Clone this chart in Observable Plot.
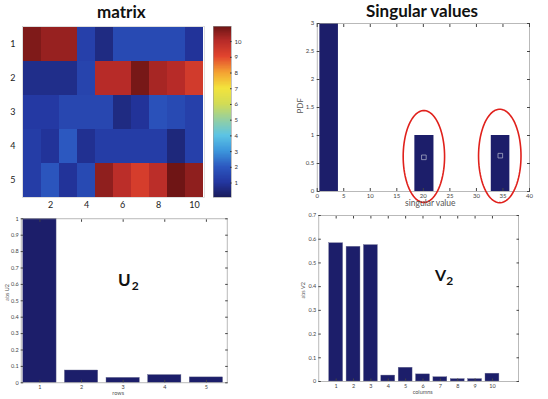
<!DOCTYPE html>
<html><head><meta charset="utf-8">
<script src="https://cdn.jsdelivr.net/npm/d3@7"></script>
<script src="https://cdn.jsdelivr.net/npm/@observablehq/plot@0.6"></script>
<style>
body{margin:0;background:#fff;}
#root{position:relative;width:548px;height:399px;overflow:hidden;font-family:Lato,sans-serif;background:#fff;}
.p{position:absolute;}
.title{position:absolute;font-weight:bold;font-size:17px;line-height:17px;white-space:nowrap;color:#111;}
.big{position:absolute;line-height:1;white-space:nowrap;color:#111;}
</style></head><body><div id="root"></div>
<script>
// ---------- data ----------
const matrixRows = [1, 2, 3, 4, 5];
const matrixCols = [1, 2, 3, 4, 5, 6, 7, 8, 9, 10];
const matrixColTicks = [2, 4, 6, 8, 10];
const matrixValues = [
  [10.7, 10.4, 10.4, 1.3, 0.6, 1.6, 1.6, 1.6, 1.6, 0.9],
  [0.7, 0.7, 0.7, 1.4, 10.0, 10.0, 10.8, 10.2, 10.0, 9.4],
  [1.1, 1.1, 1.5, 1.5, 1.5, 0.6, 0.9, 1.8, 1.6, 1.3],
  [1.2, 0.9, 2.0, 0.8, 1.2, 1.2, 1.2, 1.2, 0.5, 1.3],
  [1.2, 1.9, 0.9, 1.6, 10.5, 9.9, 9.3, 9.9, 10.9, 10.5]
];
const colorbarTicks = [1, 2, 3, 4, 5, 6, 7, 8, 9, 10];
const colorbarDomain = [0.08, 10.96];
const colorStops = [0.08, 1, 2, 3, 4, 5, 6, 7, 8, 9, 10, 10.96];
const colorRange = ["#1a1c5c", "#2336a0", "#2c58c0", "#3c96dc", "#5cc4e4", "#95cfa0", "#d2dc55", "#f3e33c", "#f4a132", "#e2452e", "#b72b28", "#6a1414"];

const svBinLo = [0.5, 18.4, 32.8];
const svBinHi = [4.0, 22.0, 36.3];
const svCounts = [3, 1, 1];
const svXTicks = [0, 5, 10, 15, 20, 25, 30, 35, 40];
const svYTicks = [0, 0.5, 1, 1.5, 2, 2.5, 3];
const svMarkX = [20.1, 34.5];
const svMarkY = [0.61, 0.64];
const ellipseCx = [20.1, 34.4];
const ellipseCy = [0.625, 0.635];
const ellipseRx = [3.9, 4.0];
const ellipseRy = [0.82, 0.835];

const uRows = [1, 2, 3, 4, 5];
const uAbs = [1.0, 0.075, 0.03, 0.047, 0.033];
const uYTicks = [0, 0.1, 0.2, 0.3, 0.4, 0.5, 0.6, 0.7, 0.8, 0.9, 1];

const vCols = [1, 2, 3, 4, 5, 6, 7, 8, 9, 10];
const vAbs = [0.583, 0.568, 0.575, 0.025, 0.058, 0.03, 0.018, 0.01, 0.01, 0.033];
const vYTicks = [0, 0.1, 0.2, 0.3, 0.4, 0.5, 0.6, 0.7];

// ---------- helpers ----------
const root = document.getElementById("root");
function place(el, left, top) { el.classList.add("p"); el.style.left = left + "px"; el.style.top = top + "px"; root.appendChild(el); }
function addText(html, cls, left, top, extra) {
  const d = document.createElement("div"); d.className = cls; d.innerHTML = html;
  d.style.left = left + "px"; d.style.top = top + "px";
  if (extra) Object.assign(d.style, extra);
  root.appendChild(d); return d;
}
const NAVY = "#1c1e6a";
const FRAME = "#9c9c9c";
const fmt = d3.format("~g");
const colorScale = {type: "linear", domain: colorStops, range: colorRange, interpolate: "rgb"};

// ---------- matrix heatmap ----------
const cells = [];
matrixRows.forEach((r, i) => matrixCols.forEach((c, j) => cells.push({row: r, col: c, value: matrixValues[i][j]})));
place(Plot.plot({
  width: 210, height: 195, marginLeft: 22, marginRight: 6, marginTop: 6, marginBottom: 18,
  x: {type: "band", domain: matrixCols, padding: 0},
  y: {type: "band", domain: matrixRows, padding: 0},
  color: colorScale,
  style: {fontSize: "9px", color: "#222", fontFamily: "Lato, sans-serif", background: "transparent"},
  marks: [
    Plot.cell(cells, {x: "col", y: "row", fill: "value", inset: 0, shapeRendering: "crispEdges"}),
    Plot.axisX({ticks: matrixColTicks, tickSize: 0, tickPadding: 4, label: null}),
    Plot.axisY({tickSize: 0, tickPadding: 7, label: null}),
    Plot.frame({stroke: "#c8c8c8", strokeWidth: 0.6})
  ]
}), 0, 20);

// colorbar
const cbSamples = d3.range(0, 300).map(i => colorbarDomain[0] + i * (colorbarDomain[1] - colorbarDomain[0]) / 300);
const cbStep = (colorbarDomain[1] - colorbarDomain[0]) / 300;
place(Plot.plot({
  width: 45, height: 195, marginLeft: 8, marginRight: 19, marginTop: 6, marginBottom: 18,
  x: {domain: [0, 1], axis: null},
  y: {domain: colorbarDomain},
  color: colorScale,
  style: {fontSize: "6px", color: "#333", fontFamily: "Lato, sans-serif", background: "transparent"},
  marks: [
    Plot.rect(cbSamples, {x1: 0, x2: 1, y1: d => d, y2: d => d + cbStep * 1.05, fill: d => d, shapeRendering: "crispEdges"}),
    Plot.axisY({anchor: "right", ticks: colorbarTicks, tickSize: -2, tickPadding: 5, tickFormat: fmt, label: null}),
    Plot.frame({stroke: "#999", strokeWidth: 0.6})
  ]
}), 205, 20);

addText("matrix", "title", 97, 3);

// ---------- singular values ----------
const svBins = svCounts.map((c, i) => ({lo: svBinLo[i], hi: svBinHi[i], count: c}));
const svMarks = svMarkX.map((x, i) => ({x, y: svMarkY[i]}));
const ellipsePts = [];
ellipseCx.forEach((cx, k) => {
  for (let t = 0; t < 90; t++) {
    const a = t / 90 * 2 * Math.PI;
    ellipsePts.push({id: k, x: cx + ellipseRx[k] * Math.cos(a), y: ellipseCy[k] + ellipseRy[k] * Math.sin(a)});
  }
});
place(Plot.plot({
  width: 274, height: 194, marginLeft: 42.7, marginRight: 19, marginTop: 5, marginBottom: 21,
  x: {domain: [0, 40]},
  y: {domain: [0, 3]},
  style: {fontSize: "6px", color: "#444", fontFamily: "Lato, sans-serif", background: "transparent"},
  marks: [
    Plot.rect(svBins, {x1: "lo", x2: "hi", y1: 0, y2: "count", fill: NAVY}),
    Plot.dot(svMarks, {x: "x", y: "y", symbol: "square", r: 2.6, stroke: "#b8bbd0", strokeWidth: 0.7, fill: "none"}),
    Plot.frame({stroke: FRAME, strokeWidth: 0.7}),
    Plot.axisY({ticks: svYTicks, tickSize: -3, tickPadding: 6, tickFormat: fmt, label: null}),
    Plot.axisY({anchor: "right", ticks: svYTicks, tickSize: -3, tickFormat: () => "", label: null}),
    Plot.axisX({ticks: svXTicks, tickSize: -3, tickPadding: 5, tickFormat: fmt, label: null}),
    Plot.axisX({anchor: "top", ticks: svXTicks, tickSize: -3, tickFormat: () => "", label: null}),
    Plot.line(ellipsePts, {x: "x", y: "y", z: "id", curve: "linear-closed", stroke: "#e0211c", strokeWidth: 1.6}),
    Plot.text(["PDF"], {text: d => d, frameAnchor: "left", dx: -17, dy: 6, rotate: -90, fontSize: 8, fill: "#555"}),
    Plot.text(["singular value"], {text: d => d, frameAnchor: "bottom", dx: 7, dy: 14, fontSize: 8.5, fill: "#555"})
  ]
}), 274, 18);

addText("Singular values", "title", 366, 2);

// ---------- U2 ----------
const uData = uRows.map((r, i) => ({r, v: uAbs[i]}));
place(Plot.plot({
  width: 274, height: 194, marginLeft: 20.7, marginRight: 47.3, marginTop: 13.3, marginBottom: 16.7,
  x: {domain: [0.55, 5.5]},
  y: {domain: [0, 1]},
  style: {fontSize: "5.5px", color: "#444", fontFamily: "Lato, sans-serif", background: "transparent"},
  marks: [
    Plot.rect(uData, {x1: d => d.r - 0.4, x2: d => d.r + 0.4, y1: 0, y2: "v", fill: NAVY, stroke: "#6a6c90", strokeWidth: 0.4}),
    Plot.frame({stroke: FRAME, strokeWidth: 0.7}),
    Plot.axisY({ticks: uYTicks, tickSize: -2.5, tickPadding: 5, tickFormat: fmt, label: null}),
    Plot.axisY({anchor: "right", ticks: uYTicks, tickSize: -2.5, tickFormat: () => "", label: null}),
    Plot.axisX({ticks: uRows, tickSize: -2.5, tickPadding: 5, tickFormat: fmt, label: null}),
    Plot.axisX({anchor: "top", ticks: uRows, tickSize: -2.5, tickFormat: () => "", label: null}),
    Plot.text(["abs U2"], {text: d => d, frameAnchor: "left", dx: -14, rotate: -90, fontSize: 5.5, fill: "#555"}),
    Plot.text(["rows"], {text: d => d, frameAnchor: "bottom", dx: -6, dy: 12.5, fontSize: 5.5, fill: "#555"})
  ]
}), 0, 205);

addText('U<span style="font-size:12px;position:relative;top:4px;margin-left:1px">2</span>', "big", 118, 271, {fontSize: "17px", fontWeight: "bold"});

// ---------- V2 ----------
const vData = vCols.map((c, i) => ({c, v: vAbs[i]}));
place(Plot.plot({
  width: 274, height: 194, marginLeft: 44.3, marginRight: 30, marginTop: 10, marginBottom: 18,
  x: {domain: [0, 11.5]},
  y: {domain: [0, 0.7]},
  style: {fontSize: "5.5px", color: "#444", fontFamily: "Lato, sans-serif", background: "transparent"},
  marks: [
    Plot.rect(vData, {x1: d => d.c - 0.4, x2: d => d.c + 0.4, y1: 0, y2: "v", fill: NAVY, stroke: "#6a6c90", strokeWidth: 0.4}),
    Plot.frame({stroke: FRAME, strokeWidth: 0.7}),
    Plot.axisY({ticks: vYTicks, tickSize: -2.5, tickPadding: 5, tickFormat: fmt, label: null}),
    Plot.axisY({anchor: "right", ticks: vYTicks, tickSize: -2.5, tickFormat: () => "", label: null}),
    Plot.axisX({ticks: vCols, tickSize: -2.5, tickPadding: 5, tickFormat: fmt, label: null}),
    Plot.axisX({anchor: "top", ticks: vCols, tickSize: -2.5, tickFormat: () => "", label: null}),
    Plot.text(["abs V2"], {text: d => d, frameAnchor: "left", dx: -16, rotate: -90, fontSize: 5.5, fill: "#555"}),
    Plot.text(["columns"], {text: d => d, frameAnchor: "bottom", dx: 4, dy: 12, fontSize: 5.5, fill: "#555"})
  ]
}), 274, 205);

addText('V<span style="font-size:12px;position:relative;top:4px">2</span>', "big", 435, 267, {fontSize: "16px", fontWeight: "bold"});
</script>
</body></html>
